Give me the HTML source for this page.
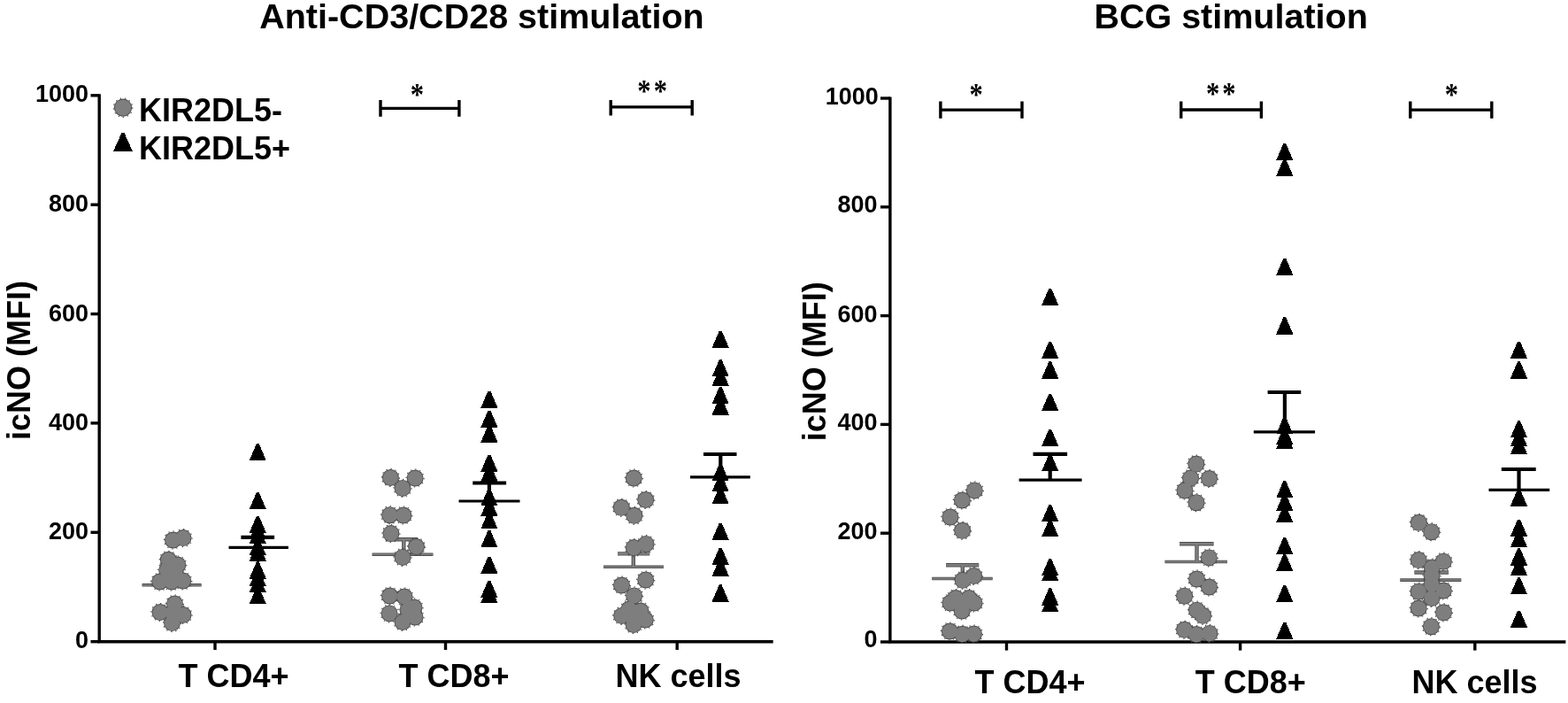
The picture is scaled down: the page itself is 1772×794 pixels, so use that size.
<!DOCTYPE html>
<html><head><meta charset="utf-8"><title>icNO</title>
<style>html,body{margin:0;padding:0;background:#fff}svg{display:block}</style></head>
<body><svg width="1772" height="794" viewBox="0 0 1772 794">
<rect width="1772" height="794" fill="#fff"/>
<text x="293.2" y="32.1" font-size="39.5" font-family="Liberation Sans, Arial, sans-serif" font-weight="bold">Anti-CD3/CD28 stimulation</text>
<text x="1236.4" y="31.7" font-size="39.5" font-family="Liberation Sans, Arial, sans-serif" font-weight="bold">BCG stimulation</text>
<text transform="translate(34,494.5) rotate(-90)" x="-2.5" y="0" font-size="36" font-family="Liberation Sans, Arial, sans-serif" font-weight="bold">icNO (MFI)</text>
<text transform="translate(933.4,495.7) rotate(-90)" x="-2.5" y="0" font-size="36" font-family="Liberation Sans, Arial, sans-serif" font-weight="bold">icNO (MFI)</text>
<path d="M112.2,106.2 V726.4 M110.5,724.7 H873.7" stroke="#000" stroke-width="3.4" fill="none" stroke-linecap="butt"/>
<path d="M102.5,724.7 H112" stroke="#000" stroke-width="3.4" fill="none"/>
<text x="100" y="732.4" font-size="27" text-anchor="end" font-family="Liberation Sans, Arial, sans-serif" font-weight="bold">0</text>
<path d="M102.5,601.3 H112" stroke="#000" stroke-width="3.4" fill="none"/>
<text x="100" y="609.1" font-size="27" text-anchor="end" font-family="Liberation Sans, Arial, sans-serif" font-weight="bold">200</text>
<path d="M102.5,477.9 H112" stroke="#000" stroke-width="3.4" fill="none"/>
<text x="100" y="485.6" font-size="27" text-anchor="end" font-family="Liberation Sans, Arial, sans-serif" font-weight="bold">400</text>
<path d="M102.5,354.6 H112" stroke="#000" stroke-width="3.4" fill="none"/>
<text x="100" y="362.6" font-size="27" text-anchor="end" font-family="Liberation Sans, Arial, sans-serif" font-weight="bold">600</text>
<path d="M102.5,231.2 H112" stroke="#000" stroke-width="3.4" fill="none"/>
<text x="100" y="239.3" font-size="27" text-anchor="end" font-family="Liberation Sans, Arial, sans-serif" font-weight="bold">800</text>
<path d="M102.5,107.8 H112" stroke="#000" stroke-width="3.4" fill="none"/>
<text x="100" y="114.5" font-size="27" text-anchor="end" font-family="Liberation Sans, Arial, sans-serif" font-weight="bold">1000</text>
<path d="M243,724 V734" stroke="#000" stroke-width="3.4" fill="none"/>
<path d="M503.5,724 V734" stroke="#000" stroke-width="3.4" fill="none"/>
<path d="M765.2,724 V734" stroke="#000" stroke-width="3.4" fill="none"/>
<path d="M1005.9,109.4 V726.7 M1004.2,725 H1769.4" stroke="#000" stroke-width="3.4" fill="none"/>
<path d="M995,725.0 H1006" stroke="#000" stroke-width="3.4" fill="none"/>
<text x="991.6" y="731.2" font-size="27" text-anchor="end" font-family="Liberation Sans, Arial, sans-serif" font-weight="bold">0</text>
<path d="M995,602.2 H1006" stroke="#000" stroke-width="3.4" fill="none"/>
<text x="991.6" y="608.8" font-size="27" text-anchor="end" font-family="Liberation Sans, Arial, sans-serif" font-weight="bold">200</text>
<path d="M995,479.4 H1006" stroke="#000" stroke-width="3.4" fill="none"/>
<text x="991.6" y="486.3" font-size="27" text-anchor="end" font-family="Liberation Sans, Arial, sans-serif" font-weight="bold">400</text>
<path d="M995,356.6 H1006" stroke="#000" stroke-width="3.4" fill="none"/>
<text x="991.6" y="364.3" font-size="27" text-anchor="end" font-family="Liberation Sans, Arial, sans-serif" font-weight="bold">600</text>
<path d="M995,233.8 H1006" stroke="#000" stroke-width="3.4" fill="none"/>
<text x="991.6" y="240.3" font-size="27" text-anchor="end" font-family="Liberation Sans, Arial, sans-serif" font-weight="bold">800</text>
<path d="M995,111.0 H1006" stroke="#000" stroke-width="3.4" fill="none"/>
<text x="992.9" y="117.7" font-size="27" text-anchor="end" font-family="Liberation Sans, Arial, sans-serif" font-weight="bold">1000</text>
<path d="M1137.5,724 V734.6" stroke="#000" stroke-width="3.4" fill="none"/>
<path d="M1401.6,724 V734.6" stroke="#000" stroke-width="3.4" fill="none"/>
<path d="M1666.8,724 V734.6" stroke="#000" stroke-width="3.4" fill="none"/>
<text x="201.4" y="775.9" font-size="36" font-family="Liberation Sans, Arial, sans-serif" font-weight="bold">T CD4+</text>
<text x="450.5" y="775.9" font-size="36" font-family="Liberation Sans, Arial, sans-serif" font-weight="bold">T CD8+</text>
<text x="695.4" y="775.9" font-size="36" font-family="Liberation Sans, Arial, sans-serif" font-weight="bold">NK cells</text>
<text x="1101.4" y="783" font-size="36" font-family="Liberation Sans, Arial, sans-serif" font-weight="bold">T CD4+</text>
<text x="1350.7" y="783" font-size="36" font-family="Liberation Sans, Arial, sans-serif" font-weight="bold">T CD8+</text>
<text x="1595.4" y="783" font-size="36" font-family="Liberation Sans, Arial, sans-serif" font-weight="bold">NK cells</text>
<text x="157" y="136.9" font-size="36" font-family="Liberation Sans, Arial, sans-serif" font-weight="bold">KIR2DL5-</text>
<text x="157" y="179.5" font-size="36" font-family="Liberation Sans, Arial, sans-serif" font-weight="bold">KIR2DL5+</text>
<path d="M430,113.1 V131.8 M430,122.4 H518.9 M518.9,113.1 V131.8" stroke="#000" stroke-width="3.4" fill="none"/>
<path d="M690.2,112.9 V130.6 M690.2,120.9 H782.2 M782.2,112.9 V130.6" stroke="#000" stroke-width="3.4" fill="none"/>
<path d="M1062.9,114.4 V133.8 M1062.9,124.1 H1155 M1155,114.4 V133.8" stroke="#000" stroke-width="3.4" fill="none"/>
<path d="M1334.7,114.6 V133.7 M1334.7,124 H1425.4 M1425.4,114.6 V133.7" stroke="#000" stroke-width="3.4" fill="none"/>
<path d="M1593.8,114.4 V133.8 M1593.8,124.1 H1685.8 M1685.8,114.4 V133.8" stroke="#000" stroke-width="3.4" fill="none"/>
<text transform="translate(471.4,119.1) scale(0.85,1)" x="0" y="0" font-size="36" text-anchor="middle" font-family="Liberation Serif, Times New Roman, serif" font-weight="bold">*</text>
<text transform="translate(728.0,115.2) scale(0.85,1)" x="0" y="0" font-size="36" text-anchor="middle" font-family="Liberation Serif, Times New Roman, serif" font-weight="bold">*</text>
<text transform="translate(746.4000000000001,115.2) scale(0.85,1)" x="0" y="0" font-size="36" text-anchor="middle" font-family="Liberation Serif, Times New Roman, serif" font-weight="bold">*</text>
<text transform="translate(1103.2,119.1) scale(0.85,1)" x="0" y="0" font-size="36" text-anchor="middle" font-family="Liberation Serif, Times New Roman, serif" font-weight="bold">*</text>
<text transform="translate(1370.6,117.5) scale(0.85,1)" x="0" y="0" font-size="36" text-anchor="middle" font-family="Liberation Serif, Times New Roman, serif" font-weight="bold">*</text>
<text transform="translate(1389.0,117.5) scale(0.85,1)" x="0" y="0" font-size="36" text-anchor="middle" font-family="Liberation Serif, Times New Roman, serif" font-weight="bold">*</text>
<text transform="translate(1640.3,119.1) scale(0.85,1)" x="0" y="0" font-size="36" text-anchor="middle" font-family="Liberation Serif, Times New Roman, serif" font-weight="bold">*</text>
<path d="M160.6,660.8H227.6" stroke="#4e4e4e" stroke-width="3.6" fill="none"/>
<path d="M160.6,660.8H227.6" stroke="#7e7e7e" stroke-width="1.8" fill="none"/>
<path d="M258.5,618.3H325.9" stroke="#000" stroke-width="3.2" fill="none"/>
<path d="M272.4,606.9H310.1M291.3,606.9V618.3" stroke="#000" stroke-width="4.2" fill="none"/>
<path d="M420.6,626.2H489.4" stroke="#4e4e4e" stroke-width="3.6" fill="none"/>
<path d="M436.2,609.2H472.2M456.3,609.2V626.2" stroke="#4e4e4e" stroke-width="4.4" fill="none"/>
<path d="M420.6,626.2H489.4" stroke="#7e7e7e" stroke-width="1.8" fill="none"/>
<path d="M436.2,609.2H472.2M456.3,609.2V626.2" stroke="#7e7e7e" stroke-width="2.6" fill="none"/>
<path d="M518.5,566.0H587.5" stroke="#000" stroke-width="3.2" fill="none"/>
<path d="M534.2,545.5H572.1M552.9,545.5V566.0" stroke="#000" stroke-width="4.2" fill="none"/>
<path d="M682,640.3H750" stroke="#4e4e4e" stroke-width="3.6" fill="none"/>
<path d="M698,625.4H734.2M715.8,625.4V640.3" stroke="#4e4e4e" stroke-width="4.4" fill="none"/>
<path d="M682,640.3H750" stroke="#7e7e7e" stroke-width="1.8" fill="none"/>
<path d="M698,625.4H734.2M715.8,625.4V640.3" stroke="#7e7e7e" stroke-width="2.6" fill="none"/>
<path d="M780,538.9H847.8" stroke="#000" stroke-width="3.2" fill="none"/>
<path d="M795,513.0H832.5M814.3,513.0V538.9" stroke="#000" stroke-width="4.2" fill="none"/>
<path d="M1053.2,653.5H1121.7" stroke="#4e4e4e" stroke-width="3.6" fill="none"/>
<path d="M1069.1,638.3H1106.2M1087.8,638.3V653.5" stroke="#4e4e4e" stroke-width="4.4" fill="none"/>
<path d="M1053.2,653.5H1121.7" stroke="#7e7e7e" stroke-width="1.8" fill="none"/>
<path d="M1069.1,638.3H1106.2M1087.8,638.3V653.5" stroke="#7e7e7e" stroke-width="2.6" fill="none"/>
<path d="M1151.6,542.2H1222.6" stroke="#000" stroke-width="3.2" fill="none"/>
<path d="M1167.5,512.8H1206.1M1186.7,512.8V542.2" stroke="#000" stroke-width="4.2" fill="none"/>
<path d="M1316.5,634.5H1386.9" stroke="#4e4e4e" stroke-width="3.6" fill="none"/>
<path d="M1333,614.3H1371.5M1352.5,614.3V634.5" stroke="#4e4e4e" stroke-width="4.4" fill="none"/>
<path d="M1316.5,634.5H1386.9" stroke="#7e7e7e" stroke-width="1.8" fill="none"/>
<path d="M1333,614.3H1371.5M1352.5,614.3V634.5" stroke="#7e7e7e" stroke-width="2.6" fill="none"/>
<path d="M1416.8,487.9H1486.1" stroke="#000" stroke-width="3.2" fill="none"/>
<path d="M1432.6,443.0H1470.2M1451.9,443.0V487.9" stroke="#000" stroke-width="4.2" fill="none"/>
<path d="M1582.3,655.1H1651.3" stroke="#4e4e4e" stroke-width="3.6" fill="none"/>
<path d="M1598.4,646.5H1637.1M1617.7,646.5V655.1" stroke="#4e4e4e" stroke-width="4.4" fill="none"/>
<path d="M1582.3,655.1H1651.3" stroke="#7e7e7e" stroke-width="1.8" fill="none"/>
<path d="M1598.4,646.5H1637.1M1617.7,646.5V655.1" stroke="#7e7e7e" stroke-width="2.6" fill="none"/>
<path d="M1682.5,553.3H1751.2" stroke="#000" stroke-width="3.2" fill="none"/>
<path d="M1696.8,530.0H1735.7M1716.5,530.0V553.3" stroke="#000" stroke-width="4.2" fill="none"/>
<g fill="#4e4e4e">
<circle cx="195.5" cy="610" r="9.50"/>
<circle cx="207" cy="607.6" r="9.50"/>
<circle cx="190.3" cy="632.3" r="9.50"/>
<circle cx="200.8" cy="638" r="9.50"/>
<circle cx="188.7" cy="644" r="9.50"/>
<circle cx="198" cy="648" r="9.50"/>
<circle cx="206.8" cy="656" r="9.50"/>
<circle cx="180.7" cy="657" r="9.50"/>
<circle cx="194" cy="657" r="9.50"/>
<circle cx="197.5" cy="682" r="9.50"/>
<circle cx="181" cy="691.5" r="9.50"/>
<circle cx="207" cy="694.5" r="9.50"/>
<circle cx="194.5" cy="703.6" r="9.50"/>
<circle cx="195" cy="692" r="9.50"/>
<circle cx="441.4" cy="539.5" r="9.50"/>
<circle cx="469.1" cy="540" r="9.50"/>
<circle cx="455" cy="551.4" r="9.50"/>
<circle cx="440.6" cy="581.7" r="9.50"/>
<circle cx="455.9" cy="582" r="9.50"/>
<circle cx="441.9" cy="602.6" r="9.50"/>
<circle cx="470.5" cy="617.5" r="9.50"/>
<circle cx="455" cy="629.4" r="9.50"/>
<circle cx="440.5" cy="673" r="9.50"/>
<circle cx="457" cy="674" r="9.50"/>
<circle cx="461" cy="689" r="9.50"/>
<circle cx="468" cy="686" r="9.50"/>
<circle cx="469" cy="697" r="9.50"/>
<circle cx="440.1" cy="692.9" r="9.50"/>
<circle cx="455" cy="702.5" r="9.50"/>
<circle cx="716.3" cy="540" r="9.50"/>
<circle cx="729.7" cy="564.5" r="9.50"/>
<circle cx="702.3" cy="573.3" r="9.50"/>
<circle cx="716.8" cy="582.3" r="9.50"/>
<circle cx="730" cy="614.4" r="9.50"/>
<circle cx="716.3" cy="618.6" r="9.50"/>
<circle cx="702.5" cy="661" r="9.50"/>
<circle cx="729.7" cy="655" r="9.50"/>
<circle cx="716.6" cy="672.9" r="9.50"/>
<circle cx="702.7" cy="695.4" r="9.50"/>
<circle cx="711" cy="688" r="9.50"/>
<circle cx="724" cy="690" r="9.50"/>
<circle cx="729.3" cy="700" r="9.50"/>
<circle cx="716" cy="705.5" r="9.50"/>
<circle cx="716" cy="697" r="9.50"/>
<circle cx="1101.3" cy="553.9" r="9.50"/>
<circle cx="1087.4" cy="565" r="9.50"/>
<circle cx="1073.9" cy="584" r="9.50"/>
<circle cx="1087.6" cy="599.3" r="9.50"/>
<circle cx="1100.6" cy="650.5" r="9.50"/>
<circle cx="1088.1" cy="655.3" r="9.50"/>
<circle cx="1074" cy="681" r="9.50"/>
<circle cx="1101" cy="681" r="9.50"/>
<circle cx="1080" cy="675.5" r="9.50"/>
<circle cx="1095" cy="675.5" r="9.50"/>
<circle cx="1087.2" cy="690" r="9.50"/>
<circle cx="1087" cy="682" r="9.50"/>
<circle cx="1073.4" cy="713" r="9.50"/>
<circle cx="1100.5" cy="716" r="9.50"/>
<circle cx="1087.5" cy="716.3" r="9.50"/>
<circle cx="1351.8" cy="524.1" r="9.50"/>
<circle cx="1345.5" cy="540.1" r="9.50"/>
<circle cx="1366.5" cy="540.5" r="9.50"/>
<circle cx="1339" cy="554" r="9.50"/>
<circle cx="1352" cy="567.7" r="9.50"/>
<circle cx="1366.3" cy="629.9" r="9.50"/>
<circle cx="1352.5" cy="654" r="9.50"/>
<circle cx="1366.5" cy="663" r="9.50"/>
<circle cx="1338.6" cy="673.2" r="9.50"/>
<circle cx="1352.5" cy="689.2" r="9.50"/>
<circle cx="1359.5" cy="695.3" r="9.50"/>
<circle cx="1338.6" cy="711.3" r="9.50"/>
<circle cx="1352" cy="716.6" r="9.50"/>
<circle cx="1366.9" cy="715.4" r="9.50"/>
<circle cx="1603.4" cy="590.3" r="9.50"/>
<circle cx="1617.7" cy="600.7" r="9.50"/>
<circle cx="1603.2" cy="632.6" r="9.50"/>
<circle cx="1631.3" cy="634.2" r="9.50"/>
<circle cx="1618.4" cy="641" r="9.50"/>
<circle cx="1618" cy="650" r="9.50"/>
<circle cx="1618" cy="660" r="9.50"/>
<circle cx="1603.2" cy="668.2" r="9.50"/>
<circle cx="1631.3" cy="667" r="9.50"/>
<circle cx="1618" cy="675.5" r="9.50"/>
<circle cx="1603.2" cy="687" r="9.50"/>
<circle cx="1631.5" cy="691.8" r="9.50"/>
<circle cx="1617.4" cy="707.7" r="9.50"/>
<circle cx="139" cy="121.6" r="10.17"/>
</g>
<g fill="none" stroke="#4e4e4e" stroke-width="1.2" stroke-dasharray="1.4 3.8">
<circle cx="195.5" cy="610" r="10.00"/>
<circle cx="207" cy="607.6" r="10.00"/>
<circle cx="190.3" cy="632.3" r="10.00"/>
<circle cx="200.8" cy="638" r="10.00"/>
<circle cx="188.7" cy="644" r="10.00"/>
<circle cx="198" cy="648" r="10.00"/>
<circle cx="206.8" cy="656" r="10.00"/>
<circle cx="180.7" cy="657" r="10.00"/>
<circle cx="194" cy="657" r="10.00"/>
<circle cx="197.5" cy="682" r="10.00"/>
<circle cx="181" cy="691.5" r="10.00"/>
<circle cx="207" cy="694.5" r="10.00"/>
<circle cx="194.5" cy="703.6" r="10.00"/>
<circle cx="195" cy="692" r="10.00"/>
<circle cx="441.4" cy="539.5" r="10.00"/>
<circle cx="469.1" cy="540" r="10.00"/>
<circle cx="455" cy="551.4" r="10.00"/>
<circle cx="440.6" cy="581.7" r="10.00"/>
<circle cx="455.9" cy="582" r="10.00"/>
<circle cx="441.9" cy="602.6" r="10.00"/>
<circle cx="470.5" cy="617.5" r="10.00"/>
<circle cx="455" cy="629.4" r="10.00"/>
<circle cx="440.5" cy="673" r="10.00"/>
<circle cx="457" cy="674" r="10.00"/>
<circle cx="461" cy="689" r="10.00"/>
<circle cx="468" cy="686" r="10.00"/>
<circle cx="469" cy="697" r="10.00"/>
<circle cx="440.1" cy="692.9" r="10.00"/>
<circle cx="455" cy="702.5" r="10.00"/>
<circle cx="716.3" cy="540" r="10.00"/>
<circle cx="729.7" cy="564.5" r="10.00"/>
<circle cx="702.3" cy="573.3" r="10.00"/>
<circle cx="716.8" cy="582.3" r="10.00"/>
<circle cx="730" cy="614.4" r="10.00"/>
<circle cx="716.3" cy="618.6" r="10.00"/>
<circle cx="702.5" cy="661" r="10.00"/>
<circle cx="729.7" cy="655" r="10.00"/>
<circle cx="716.6" cy="672.9" r="10.00"/>
<circle cx="702.7" cy="695.4" r="10.00"/>
<circle cx="711" cy="688" r="10.00"/>
<circle cx="724" cy="690" r="10.00"/>
<circle cx="729.3" cy="700" r="10.00"/>
<circle cx="716" cy="705.5" r="10.00"/>
<circle cx="716" cy="697" r="10.00"/>
<circle cx="1101.3" cy="553.9" r="10.00"/>
<circle cx="1087.4" cy="565" r="10.00"/>
<circle cx="1073.9" cy="584" r="10.00"/>
<circle cx="1087.6" cy="599.3" r="10.00"/>
<circle cx="1100.6" cy="650.5" r="10.00"/>
<circle cx="1088.1" cy="655.3" r="10.00"/>
<circle cx="1074" cy="681" r="10.00"/>
<circle cx="1101" cy="681" r="10.00"/>
<circle cx="1080" cy="675.5" r="10.00"/>
<circle cx="1095" cy="675.5" r="10.00"/>
<circle cx="1087.2" cy="690" r="10.00"/>
<circle cx="1087" cy="682" r="10.00"/>
<circle cx="1073.4" cy="713" r="10.00"/>
<circle cx="1100.5" cy="716" r="10.00"/>
<circle cx="1087.5" cy="716.3" r="10.00"/>
<circle cx="1351.8" cy="524.1" r="10.00"/>
<circle cx="1345.5" cy="540.1" r="10.00"/>
<circle cx="1366.5" cy="540.5" r="10.00"/>
<circle cx="1339" cy="554" r="10.00"/>
<circle cx="1352" cy="567.7" r="10.00"/>
<circle cx="1366.3" cy="629.9" r="10.00"/>
<circle cx="1352.5" cy="654" r="10.00"/>
<circle cx="1366.5" cy="663" r="10.00"/>
<circle cx="1338.6" cy="673.2" r="10.00"/>
<circle cx="1352.5" cy="689.2" r="10.00"/>
<circle cx="1359.5" cy="695.3" r="10.00"/>
<circle cx="1338.6" cy="711.3" r="10.00"/>
<circle cx="1352" cy="716.6" r="10.00"/>
<circle cx="1366.9" cy="715.4" r="10.00"/>
<circle cx="1603.4" cy="590.3" r="10.00"/>
<circle cx="1617.7" cy="600.7" r="10.00"/>
<circle cx="1603.2" cy="632.6" r="10.00"/>
<circle cx="1631.3" cy="634.2" r="10.00"/>
<circle cx="1618.4" cy="641" r="10.00"/>
<circle cx="1618" cy="650" r="10.00"/>
<circle cx="1618" cy="660" r="10.00"/>
<circle cx="1603.2" cy="668.2" r="10.00"/>
<circle cx="1631.3" cy="667" r="10.00"/>
<circle cx="1618" cy="675.5" r="10.00"/>
<circle cx="1603.2" cy="687" r="10.00"/>
<circle cx="1631.5" cy="691.8" r="10.00"/>
<circle cx="1617.4" cy="707.7" r="10.00"/>
<circle cx="139" cy="121.6" r="10.70"/>
</g>
<g fill="#7e7e7e">
<circle cx="195.5" cy="610" r="8.60"/>
<circle cx="207" cy="607.6" r="8.60"/>
<circle cx="190.3" cy="632.3" r="8.60"/>
<circle cx="200.8" cy="638" r="8.60"/>
<circle cx="188.7" cy="644" r="8.60"/>
<circle cx="198" cy="648" r="8.60"/>
<circle cx="206.8" cy="656" r="8.60"/>
<circle cx="180.7" cy="657" r="8.60"/>
<circle cx="194" cy="657" r="8.60"/>
<circle cx="197.5" cy="682" r="8.60"/>
<circle cx="181" cy="691.5" r="8.60"/>
<circle cx="207" cy="694.5" r="8.60"/>
<circle cx="194.5" cy="703.6" r="8.60"/>
<circle cx="195" cy="692" r="8.60"/>
<circle cx="441.4" cy="539.5" r="8.60"/>
<circle cx="469.1" cy="540" r="8.60"/>
<circle cx="455" cy="551.4" r="8.60"/>
<circle cx="440.6" cy="581.7" r="8.60"/>
<circle cx="455.9" cy="582" r="8.60"/>
<circle cx="441.9" cy="602.6" r="8.60"/>
<circle cx="470.5" cy="617.5" r="8.60"/>
<circle cx="455" cy="629.4" r="8.60"/>
<circle cx="440.5" cy="673" r="8.60"/>
<circle cx="457" cy="674" r="8.60"/>
<circle cx="461" cy="689" r="8.60"/>
<circle cx="468" cy="686" r="8.60"/>
<circle cx="469" cy="697" r="8.60"/>
<circle cx="440.1" cy="692.9" r="8.60"/>
<circle cx="455" cy="702.5" r="8.60"/>
<circle cx="716.3" cy="540" r="8.60"/>
<circle cx="729.7" cy="564.5" r="8.60"/>
<circle cx="702.3" cy="573.3" r="8.60"/>
<circle cx="716.8" cy="582.3" r="8.60"/>
<circle cx="730" cy="614.4" r="8.60"/>
<circle cx="716.3" cy="618.6" r="8.60"/>
<circle cx="702.5" cy="661" r="8.60"/>
<circle cx="729.7" cy="655" r="8.60"/>
<circle cx="716.6" cy="672.9" r="8.60"/>
<circle cx="702.7" cy="695.4" r="8.60"/>
<circle cx="711" cy="688" r="8.60"/>
<circle cx="724" cy="690" r="8.60"/>
<circle cx="729.3" cy="700" r="8.60"/>
<circle cx="716" cy="705.5" r="8.60"/>
<circle cx="716" cy="697" r="8.60"/>
<circle cx="1101.3" cy="553.9" r="8.60"/>
<circle cx="1087.4" cy="565" r="8.60"/>
<circle cx="1073.9" cy="584" r="8.60"/>
<circle cx="1087.6" cy="599.3" r="8.60"/>
<circle cx="1100.6" cy="650.5" r="8.60"/>
<circle cx="1088.1" cy="655.3" r="8.60"/>
<circle cx="1074" cy="681" r="8.60"/>
<circle cx="1101" cy="681" r="8.60"/>
<circle cx="1080" cy="675.5" r="8.60"/>
<circle cx="1095" cy="675.5" r="8.60"/>
<circle cx="1087.2" cy="690" r="8.60"/>
<circle cx="1087" cy="682" r="8.60"/>
<circle cx="1073.4" cy="713" r="8.60"/>
<circle cx="1100.5" cy="716" r="8.60"/>
<circle cx="1087.5" cy="716.3" r="8.60"/>
<circle cx="1351.8" cy="524.1" r="8.60"/>
<circle cx="1345.5" cy="540.1" r="8.60"/>
<circle cx="1366.5" cy="540.5" r="8.60"/>
<circle cx="1339" cy="554" r="8.60"/>
<circle cx="1352" cy="567.7" r="8.60"/>
<circle cx="1366.3" cy="629.9" r="8.60"/>
<circle cx="1352.5" cy="654" r="8.60"/>
<circle cx="1366.5" cy="663" r="8.60"/>
<circle cx="1338.6" cy="673.2" r="8.60"/>
<circle cx="1352.5" cy="689.2" r="8.60"/>
<circle cx="1359.5" cy="695.3" r="8.60"/>
<circle cx="1338.6" cy="711.3" r="8.60"/>
<circle cx="1352" cy="716.6" r="8.60"/>
<circle cx="1366.9" cy="715.4" r="8.60"/>
<circle cx="1603.4" cy="590.3" r="8.60"/>
<circle cx="1617.7" cy="600.7" r="8.60"/>
<circle cx="1603.2" cy="632.6" r="8.60"/>
<circle cx="1631.3" cy="634.2" r="8.60"/>
<circle cx="1618.4" cy="641" r="8.60"/>
<circle cx="1618" cy="650" r="8.60"/>
<circle cx="1618" cy="660" r="8.60"/>
<circle cx="1603.2" cy="668.2" r="8.60"/>
<circle cx="1631.3" cy="667" r="8.60"/>
<circle cx="1618" cy="675.5" r="8.60"/>
<circle cx="1603.2" cy="687" r="8.60"/>
<circle cx="1631.5" cy="691.8" r="8.60"/>
<circle cx="1617.4" cy="707.7" r="8.60"/>
<circle cx="139" cy="121.6" r="9.20"/>
</g>
<path d="M289.9,501.2H292.7L300.9,520.4H281.7ZM289.9,556.0H292.7L300.9,575.2H281.7ZM289.9,582.6H292.7L300.9,601.8H281.7ZM289.9,590.0H292.7L300.9,609.2H281.7ZM289.9,594.6H292.7L300.9,613.8H281.7ZM289.9,608.0H292.7L300.9,627.2H281.7ZM289.9,614.3H292.7L300.9,633.5H281.7ZM289.9,634.4H292.7L300.9,653.6H281.7ZM289.9,643.0H292.7L300.9,662.2H281.7ZM289.9,650.0H292.7L300.9,669.2H281.7ZM289.9,663.0H292.7L300.9,682.2H281.7ZM551.5,441.5H554.3L562.5,460.7H543.3ZM551.5,463.6H554.3L562.5,482.8H543.3ZM551.5,480.3H554.3L562.5,499.5H543.3ZM551.5,513.5H554.3L562.5,532.7H543.3ZM551.5,524.5H554.3L562.5,543.7H543.3ZM551.5,552.0H554.3L562.5,571.2H543.3ZM551.5,563.5H554.3L562.5,582.7H543.3ZM551.5,578.2H554.3L562.5,597.4H543.3ZM551.5,599.0H554.3L562.5,618.2H543.3ZM551.5,628.6H554.3L562.5,647.8H543.3ZM551.5,655.8H554.3L562.5,675.0H543.3ZM551.5,661.8H554.3L562.5,681.0H543.3ZM812.8,373.5H815.6L823.8,392.7H804.6ZM812.8,406.2H815.6L823.8,425.4H804.6ZM812.8,416.6H815.6L823.8,435.8H804.6ZM812.8,437.0H815.6L823.8,456.2H804.6ZM812.8,449.3H815.6L823.8,468.5H804.6ZM812.8,524.0H815.6L823.8,543.2H804.6ZM812.8,536.0H815.6L823.8,555.2H804.6ZM812.8,550.0H815.6L823.8,569.2H804.6ZM812.8,590.5H815.6L823.8,609.7H804.6ZM812.8,618.5H815.6L823.8,637.7H804.6ZM812.8,631.5H815.6L823.8,650.7H804.6ZM812.8,660.4H815.6L823.8,679.6H804.6ZM1185.3,325.7H1188.1L1196.3,344.9H1177.1ZM1185.3,385.8H1188.1L1196.3,405.0H1177.1ZM1185.3,408.4H1188.1L1196.3,427.6H1177.1ZM1185.3,444.7H1188.1L1196.3,463.9H1177.1ZM1185.3,484.8H1188.1L1196.3,504.0H1177.1ZM1185.3,513.0H1188.1L1196.3,532.2H1177.1ZM1185.3,570.0H1188.1L1196.3,589.2H1177.1ZM1185.3,587.0H1188.1L1196.3,606.2H1177.1ZM1185.3,631.0H1188.1L1196.3,650.2H1177.1ZM1185.3,637.0H1188.1L1196.3,656.2H1177.1ZM1185.3,664.4H1188.1L1196.3,683.6H1177.1ZM1185.3,672.0H1188.1L1196.3,691.2H1177.1ZM1450.4,162.0H1453.2L1461.4,181.2H1442.2ZM1450.4,179.5H1453.2L1461.4,198.7H1442.2ZM1450.4,291.6H1453.2L1461.4,310.8H1442.2ZM1450.4,358.3H1453.2L1461.4,377.5H1442.2ZM1450.4,471.1H1453.2L1461.4,490.3H1442.2ZM1450.4,483.0H1453.2L1461.4,502.2H1442.2ZM1450.4,487.6H1453.2L1461.4,506.8H1442.2ZM1450.4,543.1H1453.2L1461.4,562.3H1442.2ZM1450.4,557.5H1453.2L1461.4,576.7H1442.2ZM1450.4,571.0H1453.2L1461.4,590.2H1442.2ZM1450.4,606.8H1453.2L1461.4,626.0H1442.2ZM1450.4,626.0H1453.2L1461.4,645.2H1442.2ZM1450.4,661.0H1453.2L1461.4,680.2H1442.2ZM1450.4,702.5H1453.2L1461.4,721.7H1442.2ZM1715.1,385.7H1717.9L1726.1,404.9H1706.9ZM1715.1,408.3H1717.9L1726.1,427.5H1706.9ZM1715.1,475.2H1717.9L1726.1,494.4H1706.9ZM1715.1,485.0H1717.9L1726.1,504.2H1706.9ZM1715.1,494.0H1717.9L1726.1,513.2H1706.9ZM1715.1,552.4H1717.9L1726.1,571.6H1706.9ZM1715.1,586.5H1717.9L1726.1,605.7H1706.9ZM1715.1,599.0H1717.9L1726.1,618.2H1706.9ZM1715.1,619.3H1717.9L1726.1,638.5H1706.9ZM1715.1,631.0H1717.9L1726.1,650.2H1706.9ZM1715.1,652.2H1717.9L1726.1,671.4H1706.9ZM1715.1,689.6H1717.9L1726.1,708.8H1706.9ZM137.6,149.9H140.4L149.8,170.6H128.2Z" fill="#000" shape-rendering="crispEdges"/>
</svg></body></html>
